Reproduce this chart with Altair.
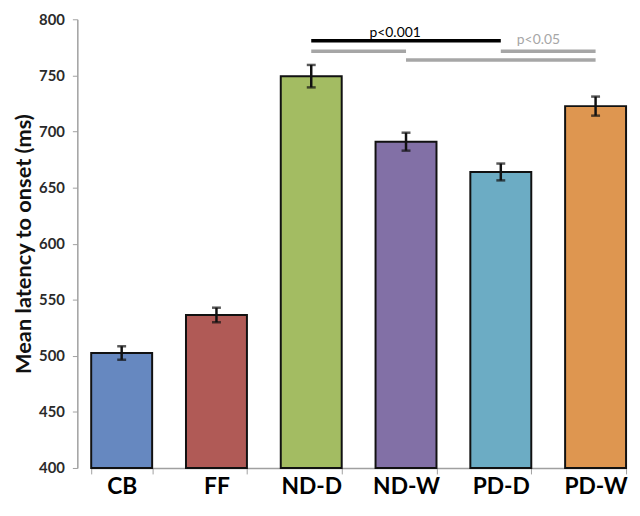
import altair as alt
import pandas as pd

groups = ["CB", "FF", "ND-D", "ND-W", "PD-D", "PD-W"]
means = [502.5, 536.4, 749.3, 690.9, 663.9, 722.6]
errors = [6.0, 6.5, 10.0, 8.0, 7.5, 8.5]
colors = ["#6688c0", "#b05a56", "#a3bc62", "#8270a6", "#6cacc4", "#de9650"]

# significance brackets
sig_start = ["ND-D", "ND-D", "PD-D", "ND-W"]
sig_end = ["PD-D", "ND-W", "PD-W", "PD-W"]
sig_y = [780.8, 771.6, 771.6, 763.8]
sig_color = ["#000000", "#a6a6a6", "#a6a6a6", "#a6a6a6"]

labels = ["p<0.001", "p<0.05"]
label_x = ["ND-W", "PD-D"]
label_y = [784.3, 777.8]
label_color = ["#000000", "#a6a6a6"]

df = pd.DataFrame({"group": groups, "mean": means, "err": errors})
df["lo"] = df["mean"] - df["err"]
df["hi"] = df["mean"] + df["err"]

sig = pd.DataFrame({"s": sig_start, "e": sig_end, "y": sig_y, "c": sig_color})

FONT = "Lato"

xscale = alt.Scale(domain=groups, range=[14, 554], paddingInner=0.357, paddingOuter=0)
yscale = alt.Scale(domain=[400, 800], nice=False, zero=False)

x = alt.X("group:N", scale=xscale, sort=groups, title=None,
          axis=alt.Axis(labelAngle=0, labelFont=FONT, labelFontSize=23, labelFontWeight="bold",
                        labelColor="#000000", labelPadding=2, tickBand="extent", tickSize=6,
                        tickColor="#a0a0a0", domainColor="#a0a0a0", domainWidth=1.5))
y = alt.Y("mean:Q", scale=yscale, title="Mean latency to onset (ms)",
          axis=alt.Axis(values=[400, 450, 500, 550, 600, 650, 700, 750, 800], grid=False,
                        labelFont=FONT, labelFontSize=15, labelFontWeight="bold", labelColor="#2a2a2a",
                        labelPadding=8, tickSize=5, tickColor="#a0a0a0", domainColor="#a0a0a0",
                        domainWidth=1.5, titleFont=FONT, titleFontSize=22, titleFontWeight="bold",
                        titleColor="#111111", titlePadding=3))

bars = alt.Chart(df).mark_bar(stroke="#111111", strokeWidth=2).encode(
    x=x, y=y, y2=alt.datum(400),
    color=alt.Color("group:N", scale=alt.Scale(domain=groups, range=colors), legend=None),
)

err_rule = alt.Chart(df).mark_rule(color="#111111", strokeWidth=2.5).encode(
    x=alt.X("group:N", scale=xscale, sort=groups),
    y=alt.Y("lo:Q", scale=yscale), y2="hi:Q",
)
caps_hi = alt.Chart(df).mark_tick(color="#111111", thickness=2.5, size=9).encode(
    x=alt.X("group:N", scale=xscale, sort=groups),
    y=alt.Y("hi:Q", scale=yscale),
)
caps_lo = alt.Chart(df).mark_tick(color="#111111", thickness=2.5, size=9).encode(
    x=alt.X("group:N", scale=xscale, sort=groups),
    y=alt.Y("lo:Q", scale=yscale),
)

sig_lines = alt.Chart(sig).mark_rule(strokeWidth=3.5).encode(
    x=alt.X("s:N", scale=xscale, sort=groups), x2="e:N",
    y=alt.Y("y:Q", scale=yscale),
    color=alt.Color("c:N", scale=None),
)

text1 = alt.Chart(pd.DataFrame({"t": [labels[0]], "x": [label_x[0]], "y": [label_y[0]]})).mark_text(
    font=FONT, fontSize=14, baseline="alphabetic", align="center", dx=-11, color=label_color[0]
).encode(x=alt.X("x:N", scale=xscale, sort=groups), y=alt.Y("y:Q", scale=yscale), text="t:N")

text2 = alt.Chart(pd.DataFrame({"t": [labels[1]], "x": [label_x[1]], "y": [label_y[1]]})).mark_text(
    font=FONT, fontSize=14, baseline="alphabetic", align="center", dx=38, color=label_color[1]
).encode(x=alt.X("x:N", scale=xscale, sort=groups), y=alt.Y("y:Q", scale=yscale), text="t:N")

chart = alt.layer(bars, err_rule, caps_hi, caps_lo, sig_lines, text1, text2).properties(
    width=554, height=453,
    autosize=alt.AutoSizeParams(type="none"),
    padding={"left": 70, "top": 9, "right": 6, "bottom": 38},
).configure_view(stroke=None).resolve_scale(color="independent")

chart.save("out.html", embed_options={"renderer": "svg", "actions": False})
